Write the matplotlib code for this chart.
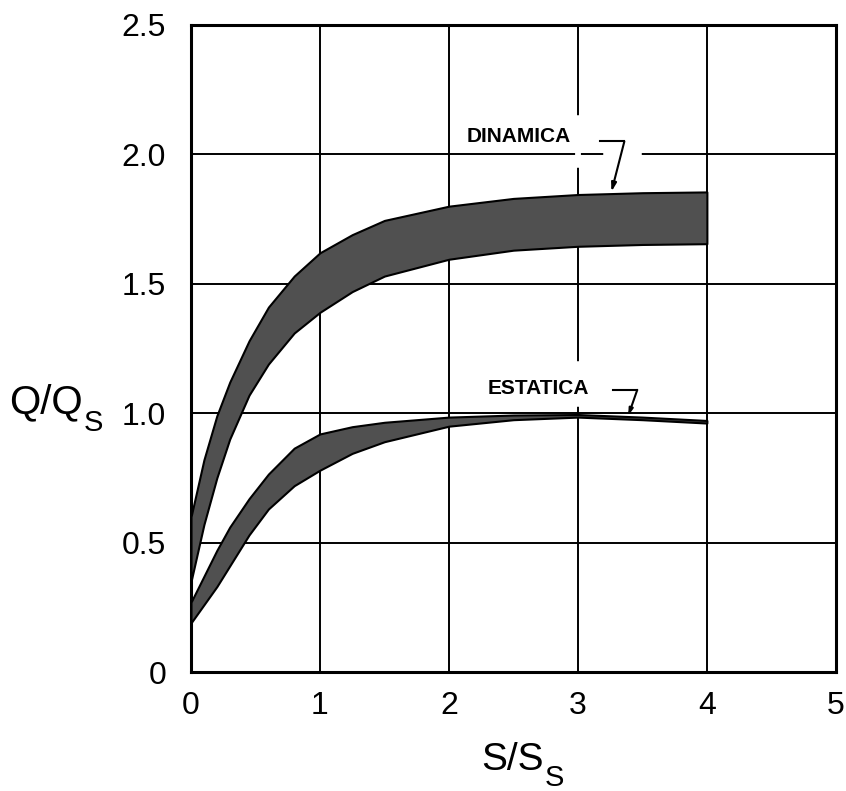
import numpy as np
import matplotlib.pyplot as plt

# ==========================
# 1. 数据
# ==========================

x_pts = [0, 0.1, 0.2, 0.3, 0.45, 0.6, 0.8, 1.0, 1.25, 1.5, 2.0, 2.5, 3.0, 3.5, 4.0]

din_upper = [0.60, 0.82, 0.99, 1.12, 1.28, 1.41, 1.53, 1.62, 1.69, 1.745,
             1.80, 1.83, 1.845, 1.852, 1.855]
din_lower = [0.35, 0.57, 0.75, 0.90, 1.07, 1.19, 1.31, 1.39, 1.47, 1.53,
             1.595, 1.63, 1.645, 1.652, 1.655]

est_upper = [0.27, 0.37, 0.47, 0.56, 0.67, 0.765, 0.865, 0.92, 0.948, 0.965,
             0.985, 0.993, 0.995, 0.985, 0.972]
est_lower = [0.19, 0.26, 0.33, 0.41, 0.53, 0.63, 0.72, 0.78, 0.845, 0.89,
             0.95, 0.975, 0.985, 0.975, 0.962]

x_ticks = [0, 1, 2, 3, 4, 5]
x_tick_labels = ["0", "1", "2", "3", "4", "5"]
y_ticks = [0, 0.5, 1.0, 1.5, 2.0, 2.5]
y_tick_labels = ["0", "0.5", "1.0", "1.5", "2.0", "2.5"]

# ==========================
# 2. 画图
# ==========================

plt.rcParams["font.family"] = ["Liberation Sans", "DejaVu Sans"]

W, H = 846, 791
fig = plt.figure(figsize=(W / 100, H / 100), dpi=100)
ax = fig.add_axes([0.2258, 0.1504, 0.7622, 0.818])

ax.set_xlim(0, 5)
ax.set_ylim(0, 2.5)

ax.set_axisbelow(True)
ax.grid(True, color="black", linewidth=1.4)

ax.fill_between(x_pts, din_lower, din_upper,
                facecolor="#505050", edgecolor="black", linewidth=1.5, zorder=3)
ax.fill_between(x_pts, est_lower, est_upper,
                facecolor="#505050", edgecolor="black", linewidth=1.5, zorder=3)

# huecos en la cuadricula
ax.plot([3.22, 3.47], [2.0, 2.0], color="white", linewidth=4, zorder=2)
ax.plot([3, 3], [2.008, 2.14], color="white", linewidth=4, zorder=2)
ax.plot([3, 3], [1.96, 1.992], color="white", linewidth=4, zorder=2)
ax.plot([3, 3], [1.035, 1.19], color="white", linewidth=4, zorder=2)

# etiquetas
ax.text(2.54, 2.07, "DINAMICA", fontsize=15, fontweight="bold",
        ha="center", va="center", zorder=4)
ax.text(2.69, 1.097, "ESTATICA", fontsize=15, fontweight="bold",
        ha="center", va="center", zorder=4)

ax.plot([3.17, 3.36], [2.05, 2.05], color="black", linewidth=1.5, zorder=4)
ax.annotate("", xy=(3.26, 1.856), xytext=(3.36, 2.05),
            arrowprops=dict(arrowstyle="-|>,head_length=0.5,head_width=0.15",
                            color="black", linewidth=1.5, shrinkA=0, shrinkB=0),
            zorder=4)

ax.plot([3.27, 3.46], [1.09, 1.09], color="black", linewidth=1.5, zorder=4)
ax.annotate("", xy=(3.39, 0.99), xytext=(3.46, 1.09),
            arrowprops=dict(arrowstyle="-|>,head_length=0.4,head_width=0.12",
                            color="black", linewidth=1.5, shrinkA=0, shrinkB=0),
            zorder=4)

# ejes
ax.set_xticks(x_ticks)
ax.set_xticklabels(x_tick_labels)
ax.set_yticks(y_ticks)
ax.set_yticklabels(y_tick_labels)
ax.tick_params(axis="both", length=0, labelsize=23)
ax.tick_params(axis="x", pad=14)
ax.tick_params(axis="y", pad=18)

for side in ax.spines.values():
    side.set_linewidth(2.2)

# titulos de ejes (Q/Qs, S/Ss)
fig.text(9 / W, 1 - 413 / H, "Q/Q", fontsize=29, ha="left", va="baseline")
fig.text(84 / W, 1 - 431 / H, "S", fontsize=21, ha="left", va="baseline")
fig.text(481 / W, 1 - 770 / H, "S/S", fontsize=28, ha="left", va="baseline")
fig.text(545 / W, 1 - 786 / H, "S", fontsize=21, ha="left", va="baseline")

plt.savefig("out.png", dpi=100)
